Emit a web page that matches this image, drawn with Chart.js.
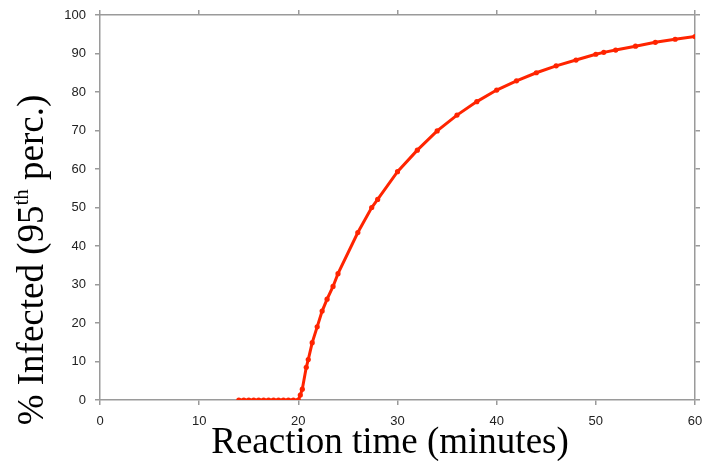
<!DOCTYPE html>
<html>
<head>
<meta charset="utf-8">
<script src="https://cdn.jsdelivr.net/npm/chart.js@4.4.1/dist/chart.umd.min.js"></script>
<style>
  html, body { margin: 0; padding: 0; background: #fff; }
  #wrap { width: 704px; height: 461px; position: relative; }
</style>
</head>
<body>
<div id="wrap"><canvas id="infChart" width="704" height="461"></canvas></div>
<script>
// reaction time (minutes)
const times = [14, 14.5, 15, 15.5, 16, 16.5, 17, 17.5, 18, 18.5, 19, 19.5, 20,
  20.2, 20.4, 20.8, 21, 21.4, 21.9, 22.4, 22.9, 23.5, 24, 26, 27.4, 28,
  30, 32, 34, 36, 38, 40, 42, 44, 46, 48, 50, 50.8, 52, 54, 56, 58, 60];
// % infected (95th percentile)
const infected = [0, 0, 0, 0, 0, 0, 0, 0, 0, 0, 0, 0, 0,
  1.3, 2.8, 8.5, 10.5, 14.9, 19.0, 23.1, 26.2, 29.5, 32.8, 43.5, 50.0, 52.1,
  59.3, 64.9, 69.9, 74.0, 77.5, 80.5, 82.9, 85.0, 86.8, 88.3, 89.8, 90.3, 90.9, 91.9, 92.9, 93.7, 94.4];
const xTicks = [0, 10, 20, 30, 40, 50, 60];
const yTicks = [0, 10, 20, 30, 40, 50, 60, 70, 80, 90, 100];

const xTitle = 'Reaction time (minutes)';
const yTitleParts = ['% Infected (95', 'th', ' perc.)'];

const axisGray = '#9a9a9a';
const lineRed = '#ff2400';

// draw axis titles (y title needs a superscript)
const titlePlugin = {
  id: 'titles',
  afterDraw(chart) {
    const ctx = chart.ctx;
    ctx.save();
    ctx.fillStyle = '#000';
    ctx.textBaseline = 'alphabetic';

    ctx.font = '37px "Liberation Serif", "Times New Roman", serif';
    ctx.textAlign = 'center';
    ctx.fillText(xTitle, 390, 453);

    // rotated y title
    ctx.translate(43, 260);
    ctx.rotate(-Math.PI / 2);
    const big = '37px "Liberation Serif", "Times New Roman", serif';
    const small = '21px "Liberation Serif", "Times New Roman", serif';
    ctx.textAlign = 'left';
    ctx.font = big;
    const w0 = ctx.measureText(yTitleParts[0]).width;
    const w2 = ctx.measureText(yTitleParts[2]).width;
    ctx.font = small;
    const w1 = ctx.measureText(yTitleParts[1]).width;
    let x = -(w0 + w1 + w2) / 2;
    ctx.font = big;
    ctx.fillText(yTitleParts[0], x, 0);
    x += w0;
    ctx.font = small;
    ctx.fillText(yTitleParts[1], x, -15);
    x += w1;
    ctx.font = big;
    ctx.fillText(yTitleParts[2], x, 0);
    ctx.restore();
  }
};

const tickFont = { family: '"Liberation Sans", Arial, sans-serif', size: 13 };

const ctx = document.getElementById('infChart').getContext('2d');
new Chart(ctx, {
  type: 'line',
  data: {
    datasets: [{
      data: times.map((t, i) => ({ x: t, y: infected[i] })),
      borderColor: lineRed,
      backgroundColor: lineRed,
      borderWidth: 3,
      pointRadius: 2.6,
      pointBorderWidth: 0,
      pointStyle: 'circle',
      tension: 0,
      fill: false
    }]
  },
  options: {
    responsive: false,
    animation: false,
    plugins: { legend: { display: false }, tooltip: { enabled: false } },
    layout: { padding: 0 },
    scales: {
      x: {
        type: 'linear', position: 'bottom', min: 0, max: 60,
        afterBuildTicks: s => { s.ticks = xTicks.map(v => ({ value: v })); },
        afterFit: s => { s.height = 61; s.paddingLeft = 0; s.paddingRight = 0; },
        grid: { drawOnChartArea: false, tickLength: 5, color: axisGray, lineWidth: 1.5 },
        border: { color: axisGray, width: 1.5 },
        ticks: { font: tickFont, color: '#222', padding: 9, maxRotation: 0 }
      },
      x2: {
        type: 'linear', position: 'top', min: 0, max: 60,
        afterBuildTicks: s => { s.ticks = xTicks.map(v => ({ value: v })); },
        afterFit: s => { s.height = 15; s.paddingLeft = 0; s.paddingRight = 0; },
        grid: { drawOnChartArea: false, tickLength: 5, color: axisGray, lineWidth: 1.5 },
        border: { color: axisGray, width: 1.5 },
        ticks: { display: false }
      },
      y: {
        type: 'linear', position: 'left', min: 0, max: 100,
        afterBuildTicks: s => { s.ticks = yTicks.map(v => ({ value: v })); },
        afterFit: s => { s.width = 100; s.paddingTop = 0; s.paddingBottom = 0; },
        grid: { drawOnChartArea: false, tickLength: 5, color: axisGray, lineWidth: 1.5 },
        border: { color: axisGray, width: 1.5 },
        ticks: { font: tickFont, color: '#222', padding: 9 }
      },
      y2: {
        type: 'linear', position: 'right', min: 0, max: 100,
        afterBuildTicks: s => { s.ticks = yTicks.map(v => ({ value: v })); },
        afterFit: s => { s.width = 9; s.paddingTop = 0; s.paddingBottom = 0; },
        grid: { drawOnChartArea: false, tickLength: 5, color: axisGray, lineWidth: 1.5 },
        border: { color: axisGray, width: 1.5 },
        ticks: { display: false }
      }
    }
  },
  plugins: [titlePlugin]
});
</script>
</body>
</html>
